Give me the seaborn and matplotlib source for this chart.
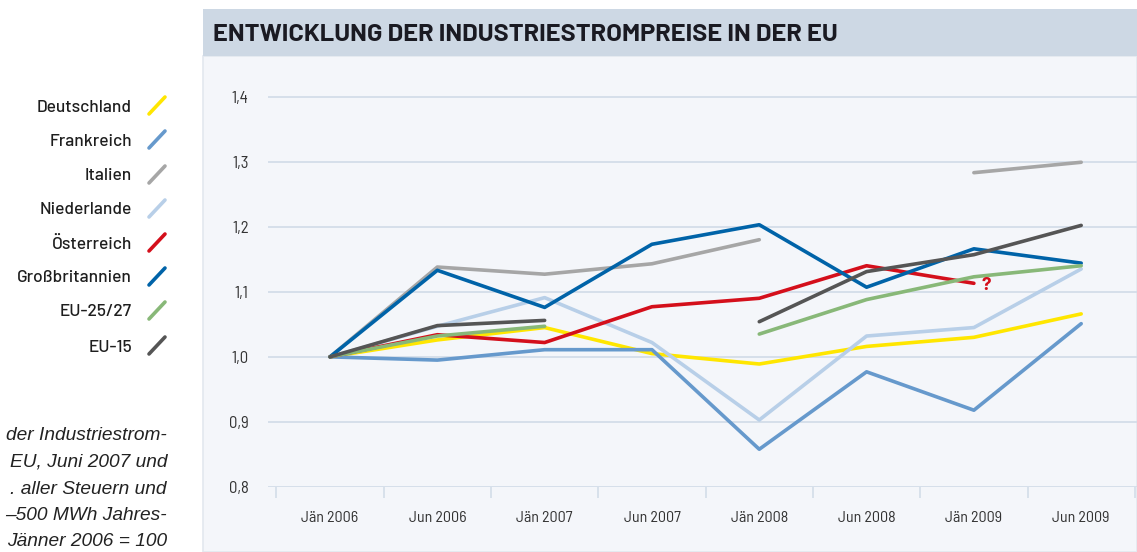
import pandas as pd
import numpy as np
import matplotlib.pyplot as plt
import seaborn as sns
from matplotlib.lines import Line2D
from matplotlib.patches import Rectangle

# values indexed to Jänner 2006 = 1,0 (None = no value)
periods = ['Jän 2006', 'Jun 2006', 'Jän 2007', 'Jun 2007', 'Jän 2008', 'Jun 2008', 'Jän 2009', 'Jun 2009']
deutschland = [1.0, 1.026, 1.045, 1.005, 0.989, 1.016, 1.030, 1.066]
frankreich = [1.0, 0.995, 1.011, 1.011, 0.858, 0.977, 0.918, 1.051]
italien = [1.0, 1.138, 1.127, 1.143, 1.180, None, 1.283, 1.299]
niederlande = [1.0, 1.047, 1.091, 1.022, 0.903, 1.032, 1.045, 1.135]
oesterreich = [1.0, 1.034, 1.022, 1.077, 1.090, 1.140, 1.113, None]
grossbritannien = [1.0, 1.133, 1.076, 1.173, 1.203, 1.107, 1.166, 1.144]
eu25 = [1.0, 1.032, 1.047, None, 1.035, 1.088, 1.123, 1.140]
eu15 = [1.0, 1.048, 1.056, None, 1.054, 1.131, 1.157, 1.202]

countries = ['Deutschland', 'Frankreich', 'Italien', 'Niederlande', 'Österreich',
             'Großbritannien', 'EU-25/27', 'EU-15']
series = [deutschland, frankreich, italien, niederlande, oesterreich, grossbritannien, eu25, eu15]
colors = ['#ffe600', '#6699cc', '#a6a6a6', '#b8cfe8', '#d40f1b', '#0063a8', '#88b878', '#555555']
palette = dict(zip(countries, colors))

# long table, a new segment wherever a value is missing
rows = []
for name, vals in zip(countries, series):
    seg = 0
    for i, v in enumerate(vals):
        if v is None:
            seg += 1
            continue
        rows.append({'land': name, 'x': i, 'wert': v, 'seg': f'{name}_{seg}'})
df = pd.DataFrame(rows)

W, H = 1137, 552
fig = plt.figure(figsize=(W / 100, H / 100), dpi=100)
fig.patch.set_facecolor('white')

def fx(px):
    return px / W

def fy(py):
    return 1 - py / H

# chart panel + title band
fig.add_artist(Rectangle((fx(203), 0), 1 - fx(203), fy(56), transform=fig.transFigure,
                         facecolor='#f4f6fa', edgecolor='#e3e8ef', lw=1.2, zorder=0))
fig.add_artist(Rectangle((fx(203), fy(56)), 1 - fx(203), fy(9) - fy(56), transform=fig.transFigure,
                         facecolor='#cdd8e4', edgecolor='none', zorder=0))
fig.text(fx(213), fy(35), 'ENTWICKLUNG DER INDUSTRIESTROMPREISE IN DER EU',
         family=['Barlow', 'DejaVu Sans'], fontweight='bold',
         fontsize=18.3, color='#1a1a22', va='center', ha='left')

ax = fig.add_axes([fx(268), fy(487), 1 - fx(268), fy(64) - fy(487)])
ax.set_facecolor('none')

sns.lineplot(data=df, x='x', y='wert', hue='land', units='seg', estimator=None,
             palette=palette, hue_order=countries, sort=False, linewidth=2.6,
             legend=False, ax=ax, solid_capstyle='round')

ax.set_xlim(-0.578, 7.52)
ax.set_ylim(0.8, 1.45)
yt = [0.8, 0.9, 1.0, 1.1, 1.2, 1.3, 1.4]
ax.set_yticks(yt)
ax.set_yticklabels([f'{v:.1f}'.replace('.', ',') for v in yt])
ax.set_xticks(range(len(periods)))
ax.set_xticklabels(periods)
ax.set_xticks(np.arange(-0.5, 8, 1), minor=True)
for v in yt:
    ax.axhline(v, color='#d3dde9', lw=1.3, zorder=0)
for s in ax.spines.values():
    s.set_visible(False)
tick_font = ['Barlow Semi Condensed', 'DejaVu Sans']
ax.tick_params(axis='y', length=0, pad=14, labelsize=12, labelcolor='#333333')
ax.tick_params(axis='x', which='major', length=0, pad=17, labelsize=11.5, labelcolor='#333333')
ax.tick_params(axis='x', which='minor', length=8, width=1.2, color='#d3dde9')
for lab in ax.get_xticklabels() + ax.get_yticklabels():
    lab.set_family(tick_font)
ax.set_xlabel('')
ax.set_ylabel('')

ax.text(6.07, 1.11, '?', color='#d40f1b', fontsize=14, fontweight='bold',
        family=['Barlow Semi Condensed', 'DejaVu Sans'], va='center', ha='left')

# legend on the left
label_y = [107, 141, 176, 210, 244, 278, 312, 347]
for name, c, py in zip(countries, colors, label_y):
    fig.text(fx(132), fy(py), name, ha='right', va='center', fontsize=12.5, fontweight='medium',
             family=['Barlow', 'DejaVu Sans'], color='#1e1e1e')
    fig.add_artist(Line2D([fx(149), fx(165)], [fy(py + 7), fy(py - 10)], color=c, lw=2.6,
                          solid_capstyle='round', transform=fig.transFigure))

# note text, only the part that shows in the reference
note = ['der Industriestrom-', 'EU, Juni 2007 und', '. aller Steuern und',
        '–500 MWh Jahres-', 'Jänner 2006 = 100']
note_y = [435, 462, 489, 516, 542]
for t, py in zip(note, note_y):
    fig.text(fx(167), fy(py), t, ha='right', va='center', fontsize=13.8, style='italic',
             family=['Liberation Sans', 'DejaVu Sans'], color='#222222')

fig.savefig('out.png', dpi=100)
